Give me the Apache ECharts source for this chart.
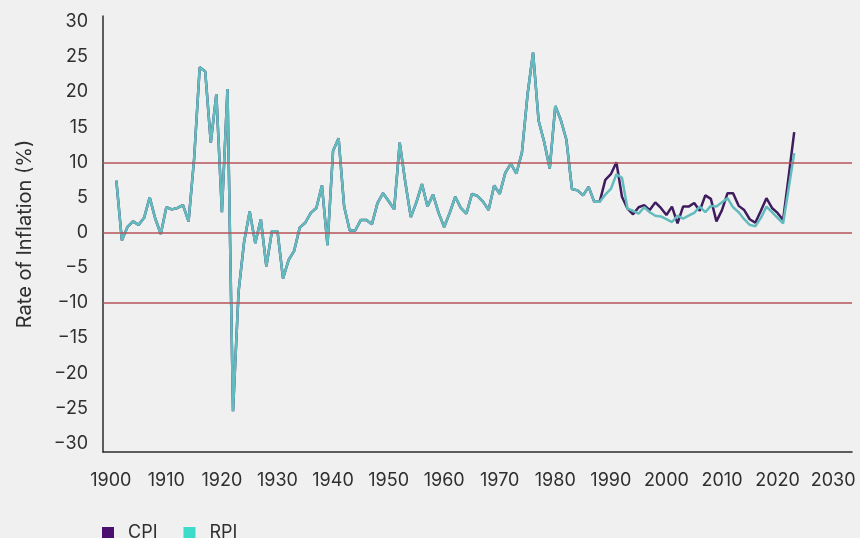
<!DOCTYPE html>
<html>
<head>
<meta charset="utf-8">
<script src="https://cdn.jsdelivr.net/npm/echarts@6/dist/echarts.min.js"></script>
<style>
  html, body { margin: 0; padding: 0; background: #f0f0f0; }
  #chart { width: 860px; height: 538px; }
</style>
</head>
<body>
<div id="chart"></div>
<script>
// 年份 1901-2023
const firstYear = 1901
const lastYear = 2023

// 1901-1988 两条线重合
const sharedValues = [
  7.4, -1.1, 0.8, 1.6, 1.1, 2.1, 5.0, 2.0, -0.2, 3.6,
  3.3, 3.5, 3.9, 1.6, 10.5, 23.5, 22.9, 12.8, 19.7, 2.9,
  20.4, -25.4, -8.4, -1.3, 3.0, -1.5, 1.9, -4.8, 0.2, 0.2,
  -6.5, -3.9, -2.6, 0.7, 1.4, 2.8, 3.5, 6.7, -1.8, 11.6,
  13.4, 3.7, 0.3, 0.3, 1.8, 1.8, 1.2, 4.2, 5.6, 4.5,
  3.3, 12.8, 7.2, 2.2, 4.3, 6.9, 3.7, 5.4, 2.8, 0.8,
  2.8, 5.1, 3.5, 2.7, 5.5, 5.2, 4.4, 3.2, 6.7, 5.5,
  8.5, 9.8, 8.4, 11.4, 19.6, 25.6, 15.9, 12.9, 9.1, 18.0,
  16.0, 13.2, 6.2, 6.0, 5.3, 6.5, 4.4, 4.4
]

// 1989-2023
const cpiRecent = [
  7.5, 8.3, 10.0, 5.1, 3.4, 2.6, 3.6, 3.9, 3.2, 4.3,
  3.5, 2.5, 3.7, 1.3, 3.7, 3.7, 4.2, 3.1, 5.3, 4.8,
  1.6, 3.2, 5.6, 5.6, 3.8, 3.2, 1.9, 1.4, 3.1, 4.9,
  3.5, 2.8, 1.8, 8.0, 14.3
]
const rpiRecent = [
  5.4, 6.2, 8.3, 7.8, 3.4, 3.1, 2.7, 3.6, 2.9, 2.4,
  2.3, 1.9, 1.5, 2.4, 2.0, 2.4, 2.8, 3.7, 2.9, 3.8,
  3.7, 4.3, 4.9, 3.6, 2.9, 1.9, 1.1, 0.9, 2.1, 3.7,
  2.9, 2.1, 1.3, 6.3, 11.3
]

// 参考线
const refLines = [10, 0, -10]

const years = []
for (let y = firstYear; y <= lastYear; y++) years.push(y)
const cpi = sharedValues.concat(cpiRecent)
const rpi = sharedValues.concat(rpiRecent)

const font = 'Inter, "Noto Sans", sans-serif'
const textColor = '#2f2f2f'

const chart = echarts.init(document.getElementById('chart'))
chart.setOption({
  backgroundColor: '#f0f0f0',
  animation: false,
  grid: { left: 103, right: 8, top: 16, bottom: 86 },
  legend: {
    left: 97,
    top: 519,
    icon: 'rect',
    itemWidth: 12,
    itemHeight: 12,
    itemGap: 26,
    textStyle: { fontFamily: font, fontSize: 18, color: textColor, padding: [0, 0, 0, 9] },
    data: [
      { name: 'CPI', itemStyle: { color: '#4b0f70' } },
      { name: 'RPI', itemStyle: { color: '#3ddbc9' } }
    ]
  },
  xAxis: {
    type: 'value',
    min: 1898.6,
    max: 2033.4,
    splitNumber: 13,
    axisLine: { onZero: false, lineStyle: { color: '#2b2b2b', width: 1.5 } },
    axisTick: { show: false },
    splitLine: { show: false },
    axisLabel: {
      margin: 20,
      fontFamily: font,
      fontSize: 18,
      color: textColor,
      showMinLabel: false,
      showMaxLabel: false,
      formatter: v => (Math.abs(v % 10) < 1e-6 ? String(Math.round(v)) : '')
    }
  },
  yAxis: {
    type: 'value',
    min: -31.2,
    max: 30.8,
    splitNumber: 12,
    name: 'Rate of Inflation (%)',
    nameLocation: 'middle',
    nameGap: 68,
    nameTextStyle: { fontFamily: font, fontSize: 20, color: textColor },
    axisLine: { show: true, lineStyle: { color: '#2b2b2b', width: 1.5 } },
    axisTick: { show: false },
    splitLine: { show: false },
    axisLabel: {
      margin: 15,
      fontFamily: font,
      fontSize: 18,
      color: textColor,
      showMinLabel: false,
      showMaxLabel: false,
      formatter: v => {
        if (Math.abs(v % 5) > 1e-6) return ''
        const n = Math.round(v)
        return n < 0 ? '\u2212' + Math.abs(n) : String(n)
      }
    }
  },
  series: [
    {
      name: 'CPI',
      type: 'line',
      data: years.map((y, i) => [y, cpi[i]]),
      symbol: 'none',
      lineStyle: { color: '#3f1c5e', width: 2.5 },
      itemStyle: { color: '#4b0f70' }
    },
    {
      name: 'RPI',
      type: 'line',
      data: years.map((y, i) => [y, rpi[i]]),
      symbol: 'none',
      lineStyle: { color: '#62bcbe', width: 2.5 },
      itemStyle: { color: '#3ddbc9' },
      markLine: {
        silent: true,
        symbol: 'none',
        label: { show: false },
        lineStyle: { color: '#b5545a', width: 1.5, type: 'solid' },
        data: refLines.map(v => ({ yAxis: v }))
      }
    }
  ]
})
</script>
</body>
</html>
